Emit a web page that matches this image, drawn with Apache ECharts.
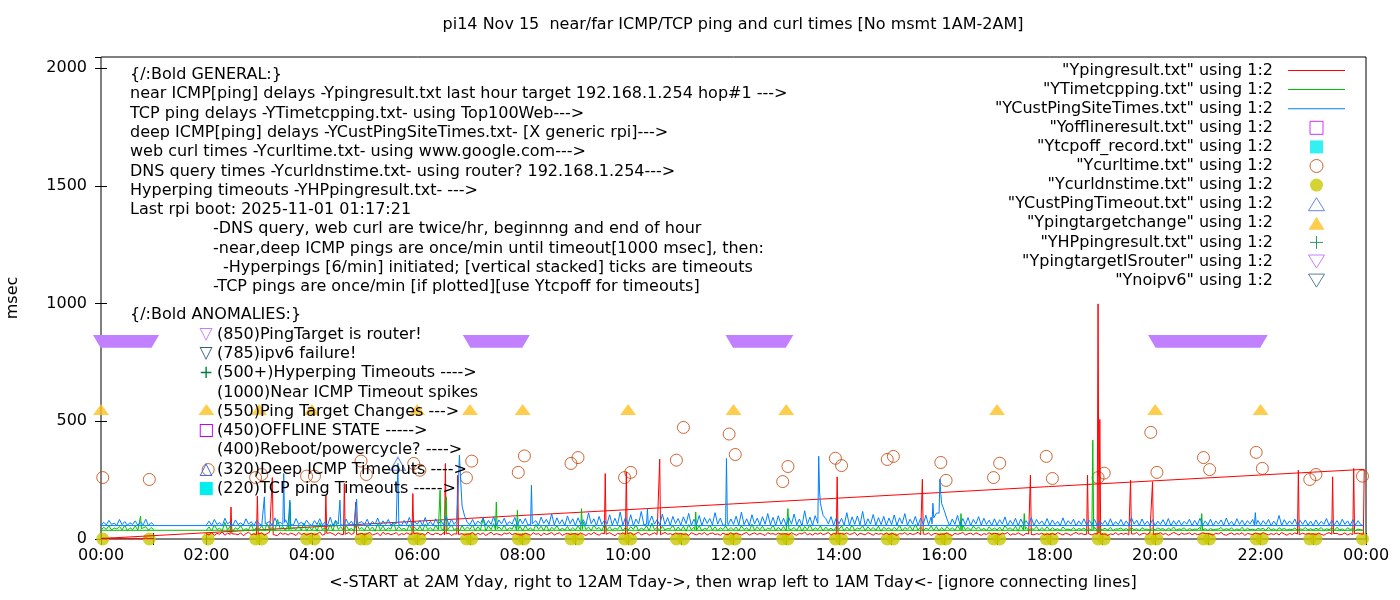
<!DOCTYPE html>
<html>
<head>
<meta charset="utf-8">
<title>pi14 Nov 15 near/far ICMP/TCP ping and curl times</title>
<script src="https://cdn.jsdelivr.net/npm/echarts@6.0.0/dist/echarts.min.js"></script>
<style>
    html, body { margin: 0; padding: 0; background: #fff; }
    #ping_chart { width: 1400px; height: 600px; }
</style>
</head>
<body>
<div id="ping_chart"></div>
<script>
// Chart data
// ------------------------------

// x axis tick labels, one per 2 hours (axis runs in minutes 0 - 1440)
var tickLabels = ['00:00', '02:00', '04:00', '06:00', '08:00', '10:00', '12:00',
    '14:00', '16:00', '18:00', '20:00', '22:00', '00:00'];

// line samples every 3 min: day rows are 02:00 .. 23:57 (one row per hour),
// early row is the wrapped part 00:00 .. 01:00
var nearIcmpDay = [
    '22 17 27 15 24 20 30 16 25 19 28 21 18 26 14 23 29 18 22 20',
    '19 26 16 23 29 18 22 14 27 20 24 17 25 21 15 28 19 24 17 22',
    '25 18 21 30 16 24 19 27 22 15 26 20 17 23 28 19 25 16 21 24',
    '18 23 28 17 21 25 14 29 20 24 18 22 27 16 23 19 26 21 15 24',
    '26 19 23 16 30 21 18 25 22 17 27 20 24 15 22 28 19 23 17 21',
    '21 28 17 24 19 26 15 22 29 18 23 20 16 25 21 27 18 24 20 17',
    '18 24 21 16 27 20 23 14 25 19 22 28 17 23 26 15 21 24 19 22',
    '23 17 26 20 15 24 19 28 21 16 25 22 18 27 20 14 24 21 26 19',
    '20 27 18 23 29 17 22 25 16 21 26 19 24 15 28 20 23 18 25 21',
    '24 19 22 15 27 21 18 24 20 28 17 23 26 19 22 16 25 20 18 27',
    '19 25 21 17 23 28 16 22 26 19 24 20 15 27 21 23 18 25 20 22',
    '22 18 27 20 16 24 21 29 18 23 17 25 20 26 19 22 28 16 24 21',
    '17 23 20 26 19 22 28 15 24 21 18 27 22 16 25 20 23 19 26 18',
    '25 20 16 23 21 27 18 24 19 22 29 17 23 20 26 15 22 24 18 21',
    '21 26 19 15 24 20 23 28 17 22 25 18 26 21 16 23 19 27 20 24',
    '23 17 25 21 28 16 22 19 26 20 15 24 21 27 18 23 20 25 17 22',
    '19 24 18 27 22 17 25 21 16 23 28 20 24 19 22 26 17 23 21 25',
    '26 21 15 22 19 27 18 24 20 25 17 23 21 28 16 22 24 19 26 20',
    '18 22 27 19 24 16 21 28 23 17 25 20 22 26 18 24 19 21 27 23',
    '24 20 17 25 21 28 19 16 22 26 18 23 20 27 15 24 21 19 25 22',
    '20 27 22 18 23 19 25 17 28 21 16 24 19 26 22 18 25 20 23 21',
    '22 18 25 20 16 23 27 19 21 24 18 20 26 17 23 21 19 25 22 20'
];
var nearIcmpEarly = '2 3 1 2 4 2 1 3 2 2 3 1 2 3 2 1 2 4 2 3 2';
// spikes: [time, value minute before, peak, value minute after]
var nearIcmpSpikes = [
    ['02:28', 20, 136, 22], ['02:58', 18, 182, 21], ['03:15', 22, 261, 19],
    ['04:16', 21, 186, 24], ['04:37', 19, 236, 20], ['04:50', 22, 157, 18],
    ['05:55', 20, 193, 23], ['06:32', 18, 321, 22], ['06:46', 21, 271, 19],
    ['09:34', 22, 278, 20], ['09:58', 19, 285, 23], ['10:36', 21, 339, 18],
    ['13:58', 20, 264, 22], ['15:35', 18, 254, 21], ['17:38', 22, 271, 19],
    ['18:43', 20, 271, 23], ['18:55', 21, 999, 25], ['18:57', 25, 508, 20],
    ['19:32', 19, 250, 22], ['19:57', 23, 243, 20], ['22:43', 21, 292, 18],
    ['23:22', 20, 264, 23], ['23:46', 19, 300, 22], ['23:58', 20, 296, 298]
];

var tcpPingDay = [
    '37 51 34 60 40 46 35 71 38 54 33 48 41 57 36 44 39 63 35 50',
    '41 57 34 65 39 50 36 83 42 53 35 61 38 47 40 55 37 68 34 52',
    '38 56 33 69 40 47 37 62 34 76 41 52 36 58 39 45 35 66 42 49',
    '36 59 39 51 33 67 38 55 35 48 42 70 37 53 40 46 34 61 38 50',
    '37 54 34 63 40 49 35 58 39 72 36 53 41 60 38 47 35 56 39 51',
    '41 60 35 52 38 87 34 56 40 65 37 51 39 58 36 48 42 62 35 54',
    '35 57 39 48 34 62 41 54 36 59 33 50 40 56 37 46 38 53 35 49',
    '38 55 34 73 40 51 36 58 42 49 35 61 39 52 37 47 41 57 34 50',
    '37 52 41 60 34 47 39 56 35 68 40 49 36 54 38 45 42 58 35 51',
    '36 54 33 61 39 50 37 57 34 46 41 59 38 52 35 48 40 55 37 49',
    '38 51 35 56 40 48 34 63 37 52 39 54 36 47 41 58 35 50 38 53',
    '35 70 41 49 36 57 33 53 39 61 37 48 40 55 34 51 38 46 36 52',
    '40 55 34 51 38 59 36 47 42 56 35 52 39 49 37 54 33 50 41 48',
    '37 50 39 58 34 49 41 54 36 62 38 51 35 47 40 55 37 53 34 49',
    '35 53 40 48 37 56 34 60 39 49 36 55 41 51 38 46 35 52 39 47',
    '38 51 35 57 41 48 36 54 33 59 39 50 37 45 40 53 35 49 38 52',
    '37 48 39 44 35 51 41 42 38 49 36 45 40 47 34 43 39 50 36 44',
    '40 46 37 50 35 43 42 47 38 45 36 49 39 44 35 48 41 42 37 46',
    '38 47 41 44 36 46 39 51 37 43 40 48 35 45 38 42 41 49 36 44',
    '35 45 39 42 42 49 37 44 40 47 36 43 38 50 35 46 39 42 37 45',
    '41 46 36 50 38 44 35 48 40 45 37 42 39 47 36 43 40 49 38 44',
    '38 46 40 49 36 44 39 47 37 50 38 43 35 48 40 45 36 42 39 37'
];
var tcpPingEarly = '37 50 41 56 38 47 43 53 39 58 36 48 40 55 38 46 42 52 37 49 40';
var tcpPingSpikes = [
    ['00:45', 40, 97, 44], ['03:35', 40, 157, 42], ['06:26', 38, 207, 45],
    ['06:33', 41, 179, 37], ['07:30', 39, 157, 42], ['07:54', 36, 122, 40],
    ['09:07', 38, 129, 41], ['11:17', 40, 115, 37], ['13:02', 37, 129, 42],
    ['16:19', 39, 108, 36], ['17:31', 38, 108, 41], ['18:49', 36, 420, 40],
    ['20:53', 40, 108, 38]
];

var deepIcmpDay = [
    '60 76 58 83 62 70 55 88 64 73 57 81 61 69 59 86 63 74 56 79',
    '65 58 84 61 75 57 90 63 71 56 82 60 77 59 87 62 72 58 80 64',
    '57 78 62 86 59 72 60 93 56 80 63 71 58 85 61 76 57 89 62 74',
    '61 84 57 75 63 89 58 77 62 83 59 70 64 87 57 79 61 92 58 73',
    '63 80 58 91 60 75 57 86 64 78 61 97 59 84 62 76 58 140 96 70',
    '61 83 59 76 65 90 58 79 62 95 57 81 64 88 60 74 63 92 58 85',
    '64 87 60 101 62 78 58 93 66 84 61 107 59 90 63 82 57 98 65 86',
    '58 90 63 82 60 111 65 86 57 96 62 79 64 103 59 88 61 115 58 92',
    '61 103 57 85 64 117 60 88 56 98 63 83 59 106 62 91 58 96 65 87',
    '59 94 65 109 58 84 62 100 57 91 66 87 60 112 63 89 58 97 61 85',
    '62 97 58 114 61 86 57 103 64 89 59 95 63 108 60 92 57 99 62 88',
    '57 91 63 106 60 85 56 120 62 93 58 99 61 150 100 87 64 95 58 90',
    '64 88 59 112 57 94 62 98 60 117 56 86 63 104 59 91 61 96 58 89',
    '61 102 58 90 65 108 59 84 63 96 57 89 62 101 60 93 58 110 64 150',
    '120 85 56 85 62 100 58 87 61 91 57 83 64 95 59 88 62 80 57 86',
    '59 82 63 94 57 79 61 88 56 85 62 78 60 91 58 83 63 77 59 87',
    '58 81 61 75 57 90 60 78 63 84 56 77 62 86 59 79 61 83 57 76',
    '62 79 57 86 59 74 61 83 58 77 60 91 63 80 57 85 61 76 59 82',
    '57 76 62 82 58 87 56 78 61 80 59 75 63 84 57 79 60 88 58 77',
    '60 84 57 77 63 81 58 89 61 75 57 86 62 80 59 78 64 83 58 79',
    '59 78 62 83 56 76 60 100 58 82 61 77 63 85 57 79 62 81 59 76',
    '57 81 60 75 62 87 58 79 61 78 59 84 62 77 58 82 60 78 61 57'
];
var deepIcmpEarly = '57 71 60 79 62 67 58 83 61 74 59 69 62 77 58 72 60 84 57 70 61';
var deepIcmpSpikes = [
    ['03:06', 60, 179, 64], ['03:28', 62, 278, 70], ['03:35', 58, 165, 61],
    ['04:32', 63, 165, 59], ['04:51', 61, 170, 66], ['05:38', 64, 321, 62],
    ['06:47', 80, 250, 356], ['08:10', 61, 228, 65], ['10:22', 63, 129, 60],
    ['11:52', 60, 342, 70], ['13:37', 66, 352, 200], ['15:47', 65, 152, 90],
    ['15:55', 110, 254, 190], ['21:54', 59, 112, 62]
];

// web curl times, twice per hour
var curlTimes = [
    ['00:02', 261], ['00:55', 253], ['02:02', 295], ['02:56', 261], ['03:03', 274],
    ['03:54', 267], ['04:03', 267], ['04:56', 331], ['05:02', 274], ['05:56', 321],
    ['06:03', 292], ['06:56', 260], ['07:02', 331], ['07:55', 283], ['08:02', 353],
    ['08:55', 321], ['09:03', 346], ['09:56', 261], ['10:03', 283], ['10:55', 335],
    ['11:03', 474], ['11:55', 446], ['12:02', 359], ['12:56', 244], ['13:02', 308],
    ['13:56', 343], ['14:03', 312], ['14:55', 338], ['15:02', 351], ['15:56', 325],
    ['16:02', 249], ['16:56', 261], ['17:03', 322], ['17:56', 351], ['18:03', 257],
    ['18:55', 261], ['19:02', 280], ['19:55', 453], ['20:02', 283], ['20:55', 346],
    ['21:02', 295], ['21:55', 368], ['22:02', 300], ['22:56', 253], ['23:03', 274],
    ['23:56', 267]
];

// DNS query times (all close to zero)
var dnsTimes = [
    ['00:02', 0], ['00:55', 0], ['02:02', 0], ['02:56', 0], ['03:03', 0],
    ['03:54', 0], ['04:03', 0], ['04:56', 0], ['05:02', 0], ['05:56', 0],
    ['06:03', 0], ['06:56', 0], ['07:02', 0], ['07:55', 0], ['08:02', 0],
    ['08:55', 0], ['09:03', 0], ['09:56', 0], ['10:03', 0], ['10:55', 0],
    ['11:03', 0], ['11:55', 0], ['12:02', 0], ['12:56', 0], ['13:02', 0],
    ['13:56', 0], ['14:03', 0], ['14:55', 0], ['15:02', 0], ['15:56', 0],
    ['16:02', 0], ['16:56', 0], ['17:03', 0], ['17:56', 0], ['18:03', 0],
    ['18:55', 0], ['19:02', 0], ['19:55', 0], ['20:02', 0], ['20:55', 0],
    ['21:02', 0], ['21:55', 0], ['22:02', 0], ['22:56', 0], ['23:03', 0],
    ['23:56', 0]
];

var targetChanges = [
    ['00:00', 550], ['02:00', 550], ['03:00', 550], ['04:00', 550], ['06:00', 550],
    ['07:00', 550], ['08:00', 550], ['10:00', 550], ['12:00', 550], ['13:00', 550],
    ['17:00', 550], ['20:00', 550], ['22:00', 550]
];
var deepTimeouts = [['05:38', 320]];
// ping target was the router: [from, to, plotted value]
var routerTargetSpans = [
    ['00:00', '00:57', 850], ['07:01', '07:59', 850],
    ['12:00', '12:59', 850], ['20:01', '21:59', 850]
];
var offlineTimes = [];
var tcpOffTimes = [];
var hyperpingTimes = [];
var noIpv6Times = [];

// Text blocks
var generalText = [
    '{/:Bold GENERAL:}',
    'near ICMP[ping] delays -Ypingresult.txt last hour target 192.168.1.254 hop#1 --->',
    'TCP ping delays -YTimetcpping.txt- using Top100Web--->',
    'deep ICMP[ping] delays -YCustPingSiteTimes.txt- [X generic rpi]--->',
    'web curl times -Ycurltime.txt- using www.google.com--->',
    'DNS query times -Ycurldnstime.txt- using router? 192.168.1.254--->',
    'Hyperping timeouts -YHPpingresult.txt- --->',
    'Last rpi boot: 2025-11-01 01:17:21',
    '-DNS query, web curl are twice/hr, beginnng and end of hour',
    '-near,deep ICMP pings are once/min until timeout[1000 msec], then:',
    '-Hyperpings [6/min] initiated; [vertical stacked] ticks are timeouts',
    '-TCP pings are once/min [if plotted][use Ytcpoff for timeouts]'
];
var anomalyText = [
    ['\u25BD', '#c080ff', '(850)PingTarget is router!'],
    ['\u25BD', '#306080', '(785)ipv6 failure!'],
    ['+', '#008040', '(500+)Hyperping Timeouts ---->'],
    ['', '', '(1000)Near ICMP Timeout spikes'],
    ['', '', '(550)Ping Target Changes --->'],
    ['\u25A1', '#c000ff', '(450)OFFLINE STATE ----->'],
    ['', '', '(400)Reboot/powercycle? ---->'],
    ['\u25B3', '#4169e1', '(320)Deep ICMP Timeouts ---->'],
    ['\u25A0', '#00eeee', '(220)TCP ping Timeouts ----->']
];


// Helpers
// ------------------------------

var DAY_START = 120;   // 02:00
var STEP = 3;

function toMin(t) {
    var p = t.split(':');
    return +p[0] * 60 + +p[1];
}

function buildLine(dayRows, earlyRow, spikes) {
    var day = [], early = [];
    dayRows.join(' ').split(/\s+/).forEach(function (v, i) {
        day.push([DAY_START + i * STEP, +v]);
    });
    earlyRow.split(/\s+/).forEach(function (v, i) {
        early.push([i * STEP, +v]);
    });
    spikes.forEach(function (s) {
        var m = toMin(s[0]);
        var part = m < DAY_START ? early : day;
        for (var k = part.length - 1; k >= 0; k--) {
            if (Math.abs(part[k][0] - m) <= 1) part.splice(k, 1);
        }
        part.push([m - 1, s[1]], [m, s[2]], [m + 1, s[3]]);
    });
    var byTime = function (a, b) { return a[0] - b[0]; };
    day.sort(byTime);
    early.sort(byTime);
    // 02:00 -> 24:00 first, then wrap to 00:00 -> 01:00 (gnuplot connects them)
    return day.concat(early);
}

function toPoints(list) {
    return list.map(function (d) { return [toMin(d[0]), d[1]]; });
}


// Chart
// ------------------------------

var FONT = 'DejaVu Sans';
var chart = echarts.init(document.getElementById('ping_chart'));

var hollow = function (c) {
    return { color: 'rgba(0,0,0,0)', borderColor: c, borderWidth: 1 };
};
var lineIcon = 'path://M0,0L57,0L57,1L0,1Z';
var squareIcon = 'path://M0,0L12,0L12,12L0,12Z';
var triUp = 'path://M8,0L16,13L0,13Z';
var triDown = 'path://M0,0L16,0L8,13Z';
var plusIcon = 'path://M6,0L6,12M0,6L12,6';

var names = [
    '"Ypingresult.txt" using 1:2',
    '"YTimetcpping.txt" using 1:2',
    '"YCustPingSiteTimes.txt" using 1:2',
    '"Yofflineresult.txt" using 1:2',
    '"Ytcpoff_record.txt" using 1:2',
    '"Ycurltime.txt" using 1:2',
    '"Ycurldnstime.txt" using 1:2',
    '"YCustPingTimeout.txt" using 1:2',
    '"Ypingtargetchange" using 1:2',
    '"YHPpingresult.txt" using 1:2',
    '"YpingtargetISrouter" using 1:2',
    '"Ynoipv6" using 1:2'
];

// text graphics
var graphics = [];
var textEl = function (x, y, text, extra) {
    var el = {
        type: 'text', x: x, y: y, z: 5, silent: true,
        style: {
            text: text, fill: '#000', fontFamily: FONT, fontSize: 16,
            textAlign: 'left', verticalAlign: 'middle'
        }
    };
    if (extra) {
        for (var k in extra) el.style[k] = extra[k];
    }
    return el;
};
graphics.push(textEl(733, 25, 'pi14 Nov 15  near/far ICMP/TCP ping and curl times [No msmt 1AM-2AM]', { textAlign: 'center' }));
graphics.push(textEl(733, 583, '<-START at 2AM Yday, right to 12AM Tday->, then wrap left to 1AM Tday<- [ignore connecting lines]', { textAlign: 'center' }));
var msec = textEl(13, 298, 'msec', { textAlign: 'center' });
msec.rotation = Math.PI / 2;
graphics.push(msec);

var indent = [130, 130, 130, 130, 130, 130, 130, 130, 213, 213, 223, 213];
generalText.forEach(function (t, i) {
    graphics.push(textEl(indent[i], 75 + i * 19.27, t));
});
graphics.push(textEl(130, 315, '{/:Bold ANOMALIES:}'));
anomalyText.forEach(function (row, i) {
    var y = 334.5 + i * 19.3;
    if (row[0]) {
        graphics.push(textEl(206, y, row[0], { textAlign: 'center', fill: row[1], fontSize: 17 }));
    }
    graphics.push(textEl(217, y, row[2]));
});

var axisCommon = {
    axisLine: { show: false },
    axisTick: { show: true, inside: true, length: 6, lineStyle: { color: '#000', width: 1 } },
    splitLine: { show: false }
};

chart.setOption({
    animation: false,
    backgroundColor: '#fff',
    textStyle: { fontFamily: FONT },

    grid: {
        left: 101, right: 34, top: 57, bottom: 61,
        show: true, borderColor: '#000', borderWidth: 1
    },

    legend: {
        orient: 'vertical',
        align: 'right',
        right: 55,
        top: 61,
        padding: 0,
        itemWidth: 57,
        itemHeight: 13,
        itemGap: 0.1,
        selectedMode: false,
        textStyle: {
            fontFamily: FONT, fontSize: 16, color: '#000',
            lineHeight: 19, padding: [0, 10, 0, 0]
        },
        data: [
            { name: names[0], icon: lineIcon, itemStyle: { color: '#ff0000', borderWidth: 0 } },
            { name: names[1], icon: lineIcon, itemStyle: { color: '#00c000', borderWidth: 0 } },
            { name: names[2], icon: lineIcon, itemStyle: { color: '#0080ff', borderWidth: 0 } },
            { name: names[3], icon: squareIcon, itemStyle: hollow('#c000ff') },
            { name: names[4], icon: squareIcon, itemStyle: { color: '#00eeee', borderWidth: 0 } },
            { name: names[5], icon: 'circle', itemStyle: hollow('#c04000') },
            { name: names[6], icon: 'circle', itemStyle: { color: '#c8c800', borderWidth: 0 } },
            { name: names[7], icon: triUp, itemStyle: hollow('#4169e1') },
            { name: names[8], icon: triUp, itemStyle: { color: '#ffc020', borderWidth: 0 } },
            { name: names[9], icon: plusIcon, itemStyle: hollow('#008040') },
            { name: names[10], icon: triDown, itemStyle: hollow('#c080ff') },
            { name: names[11], icon: triDown, itemStyle: hollow('#306080') }
        ]
    },

    xAxis: [
        Object.assign({
            type: 'value', min: 0, max: 1440, interval: 60,
            axisLabel: {
                color: '#000', fontFamily: FONT, fontSize: 16, margin: 9,
                formatter: function (v) {
                    return v % 120 === 0 ? tickLabels[v / 120] : '';
                }
            }
        }, axisCommon),
        Object.assign({
            type: 'value', position: 'top', min: 0, max: 1440, interval: 60,
            axisLabel: { show: false }
        }, axisCommon)
    ],

    yAxis: [
        Object.assign({
            type: 'value', min: 0, max: 2048, interval: 500,
            axisLabel: {
                color: '#000', fontFamily: FONT, fontSize: 16, margin: 14,
                showMaxLabel: false,
                formatter: function (v) { return String(v); }
            }
        }, axisCommon),
        Object.assign({
            type: 'value', position: 'right', min: 0, max: 2048, interval: 500,
            axisLabel: { show: false }
        }, axisCommon)
    ],

    graphic: graphics,

    series: [
        {
            name: names[0], type: 'line', symbol: 'none', silent: true,
            itemStyle: { color: '#ff0000' }, lineStyle: { color: '#ff0000', width: 1 },
            data: buildLine(nearIcmpDay, nearIcmpEarly, nearIcmpSpikes)
        },
        {
            name: names[1], type: 'line', symbol: 'none', silent: true,
            itemStyle: { color: '#00c000' }, lineStyle: { color: '#00c000', width: 1 },
            data: buildLine(tcpPingDay, tcpPingEarly, tcpPingSpikes)
        },
        {
            name: names[2], type: 'line', symbol: 'none', silent: true,
            itemStyle: { color: '#0080ff' }, lineStyle: { color: '#0080ff', width: 1 },
            data: buildLine(deepIcmpDay, deepIcmpEarly, deepIcmpSpikes)
        },
        {
            name: names[3], type: 'scatter', symbol: squareIcon, symbolSize: 12, clip: false,
            itemStyle: hollow('#c000ff'), data: toPoints(offlineTimes)
        },
        {
            name: names[4], type: 'scatter', symbol: squareIcon, symbolSize: 12, clip: false,
            itemStyle: { color: '#00eeee' }, data: toPoints(tcpOffTimes)
        },
        {
            name: names[5], type: 'scatter', symbol: 'circle', symbolSize: 12, clip: false,
            itemStyle: hollow('#c04000'), data: toPoints(curlTimes)
        },
        {
            name: names[6], type: 'scatter', symbol: 'circle', symbolSize: 13, clip: false,
            itemStyle: { color: '#c8c800' }, data: toPoints(dnsTimes)
        },
        {
            name: names[7], type: 'scatter', symbol: triUp, symbolSize: [15, 13], clip: false,
            itemStyle: hollow('#4169e1'), data: toPoints(deepTimeouts)
        },
        {
            name: names[8], type: 'scatter', symbol: triUp, symbolSize: [16, 11], clip: false,
            itemStyle: { color: '#ffc020' }, data: toPoints(targetChanges)
        },
        {
            name: names[9], type: 'scatter', symbol: plusIcon, symbolSize: 11, clip: false,
            itemStyle: hollow('#008040'), data: toPoints(hyperpingTimes)
        },
        {
            name: names[10], type: 'custom', clip: false, silent: true,
            itemStyle: { color: '#c080ff' },
            encode: { x: [0, 1], y: 2 },
            renderItem: function (params, api) {
                var a = api.coord([api.value(0), api.value(2)]);
                var b = api.coord([api.value(1), api.value(2)]);
                return {
                    type: 'polygon',
                    shape: {
                        points: [
                            [a[0] - 8, a[1] - 4], [b[0] + 8, b[1] - 4],
                            [b[0] + 0.5, b[1] + 8.7], [a[0] - 0.5, a[1] + 8.7]
                        ]
                    },
                    style: { fill: '#c080ff' }
                };
            },
            data: routerTargetSpans.map(function (s) {
                return [toMin(s[0]), toMin(s[1]), s[2]];
            })
        },
        {
            name: names[11], type: 'scatter', symbol: triDown, symbolSize: [13, 11], clip: false,
            itemStyle: hollow('#306080'), data: toPoints(noIpv6Times)
        }
    ]
});
</script>
</body>
</html>
